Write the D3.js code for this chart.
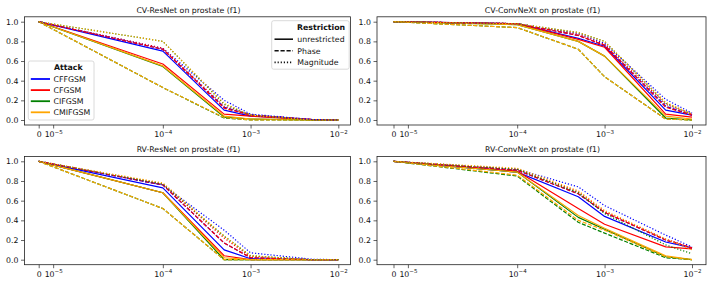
<!DOCTYPE html>
<html>
<head>
<meta charset="utf-8">
<script src="https://cdn.jsdelivr.net/npm/d3@7"></script>
<style>
html,body{margin:0;padding:0;background:#fff;}
svg text{font-family:"DejaVu Sans",sans-serif;}
</style>
</head>
<body>
<svg id="chart" width="714" height="286"></svg>
<script>
// ---------- data ----------
const epsilons = [0, 1e-4, 5e-4, 1e-3, 5e-3, 1e-2];
const attacks = ["CFFGSM", "CFGSM", "CIFGSM", "CMIFGSM"];
const attackColors = ["#0000ff", "#ff0000", "#008000", "#ffa500"];
const restrictions = ["unrestricted", "Phase", "Magnitude"];
const yTicks = [0.0, 0.2, 0.4, 0.6, 0.8, 1.0];
const xTicks = [0, 1e-5, 1e-4, 1e-3, 1e-2];
const xTickExps = [null, -5, -4, -3, -2];
const titles = ["CV-ResNet on prostate (f1)", "CV-ConvNeXt on prostate (f1)",
                "RV-ResNet on prostate (f1)", "RV-ConvNeXt on prostate (f1)"];

// rows: CFFGSM, CFGSM, CIFGSM, CMIFGSM
const cvResNetUnrestricted = [
  [1, 0.70, 0.10, 0.04, 0.005, 0],
  [1, 0.57, 0.06, 0.04, 0.0, 0],
  [1, 0.545, 0.03, 0.01, 0, 0],
  [1, 0.55, 0.04, 0.01, 0, 0]];
const cvResNetPhase = [
  [1, 0.72, 0.13, 0.05, 0.005, 0],
  [1, 0.72, 0.12, 0.05, 0.005, 0],
  [1, 0.33, 0.02, 0.0, 0, 0],
  [1, 0.33, 0.025, 0.0, 0, 0]];
const cvResNetMagnitude = [
  [1, 0.73, 0.20, 0.06, 0.005, 0],
  [1, 0.73, 0.14, 0.05, 0.005, 0],
  [1, 0.80, 0.16, 0.05, 0.0, 0],
  [1, 0.80, 0.17, 0.05, 0.0, 0]];

const cvConvNeXtUnrestricted = [
  [1, 0.98, 0.83, 0.75, 0.10, 0.05],
  [1, 0.98, 0.82, 0.74, 0.06, 0.03],
  [1, 0.97, 0.80, 0.65, 0.02, 0.0],
  [1, 0.97, 0.80, 0.65, 0.04, 0.01]];
const cvConvNeXtPhase = [
  [1, 0.98, 0.86, 0.76, 0.14, 0.05],
  [1, 0.98, 0.86, 0.76, 0.13, 0.05],
  [1, 0.94, 0.72, 0.44, 0.01, 0.0],
  [1, 0.94, 0.72, 0.44, 0.01, 0.0]];
const cvConvNeXtMagnitude = [
  [1, 0.98, 0.88, 0.78, 0.21, 0.07],
  [1, 0.98, 0.87, 0.77, 0.16, 0.06],
  [1, 0.98, 0.89, 0.80, 0.17, 0.06],
  [1, 0.98, 0.89, 0.80, 0.18, 0.06]];

const rvResNetUnrestricted = [
  [1, 0.73, 0.10, 0.01, 0, 0],
  [1, 0.68, 0.04, 0.0, 0, 0],
  [1, 0.68, 0.0, 0.0, 0, 0],
  [1, 0.68, 0.02, 0.0, 0, 0]];
const rvResNetPhase = [
  [1, 0.76, 0.17, 0.02, 0, 0],
  [1, 0.76, 0.17, 0.02, 0, 0],
  [1, 0.52, 0.0, 0.0, 0, 0],
  [1, 0.52, 0.0, 0.0, 0, 0]];
const rvResNetMagnitude = [
  [1, 0.76, 0.30, 0.07, 0.005, 0],
  [1, 0.77, 0.22, 0.03, 0, 0],
  [1, 0.77, 0.24, 0.04, 0, 0],
  [1, 0.78, 0.24, 0.04, 0, 0]];

const rvConvNeXtUnrestricted = [
  [1, 0.89, 0.64, 0.44, 0.18, 0.12],
  [1, 0.90, 0.52, 0.36, 0.13, 0.11],
  [1, 0.89, 0.43, 0.31, 0.03, 0.0],
  [1, 0.89, 0.45, 0.32, 0.04, 0.0]];
const rvConvNeXtPhase = [
  [1, 0.91, 0.67, 0.48, 0.20, 0.12],
  [1, 0.91, 0.67, 0.48, 0.20, 0.12],
  [1, 0.85, 0.38, 0.27, 0.02, 0.0],
  [1, 0.86, 0.40, 0.30, 0.03, 0.0]];
const rvConvNeXtMagnitude = [
  [1, 0.92, 0.74, 0.55, 0.25, 0.13],
  [1, 0.92, 0.69, 0.49, 0.21, 0.12],
  [1, 0.92, 0.68, 0.47, 0.15, 0.06],
  [1, 0.93, 0.70, 0.50, 0.21, 0.10]];

const panelData = [
  [cvResNetUnrestricted, cvResNetPhase, cvResNetMagnitude],
  [cvConvNeXtUnrestricted, cvConvNeXtPhase, cvConvNeXtMagnitude],
  [rvResNetUnrestricted, rvResNetPhase, rvResNetMagnitude],
  [rvConvNeXtUnrestricted, rvConvNeXtPhase, rvConvNeXtMagnitude]];

// ---------- layout ----------
const FS = 7.8;
const dashes = [null, "4,1.7", "1.2,1.9"];
const legendDashes = [null, "4.2,1.8", "1.2,1.9"];
// symlog-like transform: linear below LT, log10 above
const LT = 8e-5, LS = 1.318;
const tf = x => x <= LT ? (x / LT) * LS : LS + Math.log10(x / LT);

const cols = [
  {x0: 24.5, x1: 350.5, d0: 38.7, d1: 338.3},
  {x0: 377, x1: 706, d0: 393.5, d1: 692}];
const rows = [
  {y0: 16.8, y1: 125, v1: 21.7, v0: 120, ty: 12.6},
  {y0: 156.5, y1: 264.7, v1: 161.3, v0: 259.7, ty: 151.8}];

const svg = d3.select("#chart");

panelData.forEach((series, p) => {
  const c = cols[p % 2], r = rows[Math.floor(p / 2)];
  const xl = d3.scaleLinear().domain([tf(0), tf(1e-2)]).range([c.d0, c.d1]);
  const x = v => xl(tf(v));
  const y = d3.scaleLinear().domain([0, 1]).range([r.v0, r.v1]);
  const g = svg.append("g");

  // clip
  const cid = "clip" + p;
  svg.append("clipPath").attr("id", cid).append("rect")
    .attr("x", c.x0).attr("y", r.y0).attr("width", c.x1 - c.x0).attr("height", r.y1 - r.y0);

  const line = d3.line().x((d, i) => x(epsilons[i])).y(d => y(d));
  const lg = g.append("g").attr("clip-path", `url(#${cid})`);
  series.forEach((rs, ri) => {
    rs.forEach((vals, ai) => {
      lg.append("path").datum(vals)
        .attr("d", line)
        .attr("fill", "none")
        .attr("stroke", attackColors[ai])
        .attr("stroke-width", 1.2)
        .attr("stroke-dasharray", dashes[ri])
        .attr("stroke-linejoin", "round");
    });
  });

  // y axis
  const ya = g.append("g").attr("transform", `translate(${c.x0},0)`)
    .call(d3.axisLeft(y).tickValues(yTicks).tickFormat(d3.format(".1f")).tickSize(3.5).tickPadding(2.5));
  ya.select(".domain").remove();
  ya.selectAll("line").attr("stroke", "#222").attr("stroke-width", 0.7);
  ya.selectAll("text").attr("font-size", FS).attr("fill", "#111").attr("font-family", "DejaVu Sans");

  // x axis
  const xa = g.append("g").attr("transform", `translate(0,${r.y1})`)
    .call(d3.axisBottom(xl).tickValues(xTicks.map(tf)).tickFormat("").tickSize(3.5));
  xa.select(".domain").remove();
  xa.selectAll("line").attr("stroke", "#222").attr("stroke-width", 0.7);
  xa.selectAll(".tick").each(function(d, i) {
    const t = d3.select(this).append("text")
      .attr("y", 12.3).attr("text-anchor", "middle")
      .attr("font-size", FS).attr("fill", "#111").attr("font-family", "DejaVu Sans");
    if (xTickExps[i] === null) {
      t.text("0");
    } else {
      t.append("tspan").text("10");
      t.append("tspan").attr("dy", -3.6).attr("font-size", 5.5).text("\u2212" + Math.abs(xTickExps[i]));
    }
  });

  // spines
  g.append("rect").attr("x", c.x0).attr("y", r.y0)
    .attr("width", c.x1 - c.x0).attr("height", r.y1 - r.y0)
    .attr("fill", "none").attr("stroke", "#222").attr("stroke-width", 0.8);

  // title
  g.append("text").attr("x", (c.x0 + c.x1) / 2 + 1).attr("y", r.ty)
    .attr("text-anchor", "middle").attr("font-size", FS).attr("fill", "#111")
    .text(titles[p]);
});

// ---------- legends (first panel) ----------
function legendBox(x, y, w, h) {
  svg.append("rect").attr("x", x).attr("y", y).attr("width", w).attr("height", h)
    .attr("rx", 2).attr("fill", "#fff").attr("fill-opacity", 0.85)
    .attr("stroke", "#d0d0d0").attr("stroke-width", 0.8);
}

// Restriction legend
legendBox(271.7, 20.7, 77.5, 48.5);
svg.append("text").attr("x", 297).attr("y", 30.2).attr("font-size", FS)
  .attr("font-weight", "bold").attr("fill", "#111").text("Restriction");
restrictions.forEach((name, i) => {
  const cy = 39.2 + i * 11.6;
  svg.append("line").attr("x1", 274.5).attr("x2", 293).attr("y1", cy).attr("y2", cy)
    .attr("stroke", "#111").attr("stroke-width", 1.6).attr("stroke-dasharray", legendDashes[i]);
  svg.append("text").attr("x", 297.3).attr("y", cy + 2.8).attr("font-size", FS)
    .attr("fill", "#111").text(name);
});

// Attack legend
legendBox(28.3, 61, 65.7, 59);
svg.append("text").attr("x", 68.3).attr("y", 69.6).attr("text-anchor", "middle")
  .attr("font-size", FS).attr("font-weight", "bold").attr("fill", "#111").text("Attack");
attacks.forEach((name, i) => {
  const cy = 79 + i * 11.1;
  svg.append("line").attr("x1", 30.8).attr("x2", 50).attr("y1", cy).attr("y2", cy)
    .attr("stroke", attackColors[i]).attr("stroke-width", 1.8);
  svg.append("text").attr("x", 53.5).attr("y", cy + 2.8).attr("font-size", FS)
    .attr("fill", "#111").text(name);
});
</script>
</body>
</html>
